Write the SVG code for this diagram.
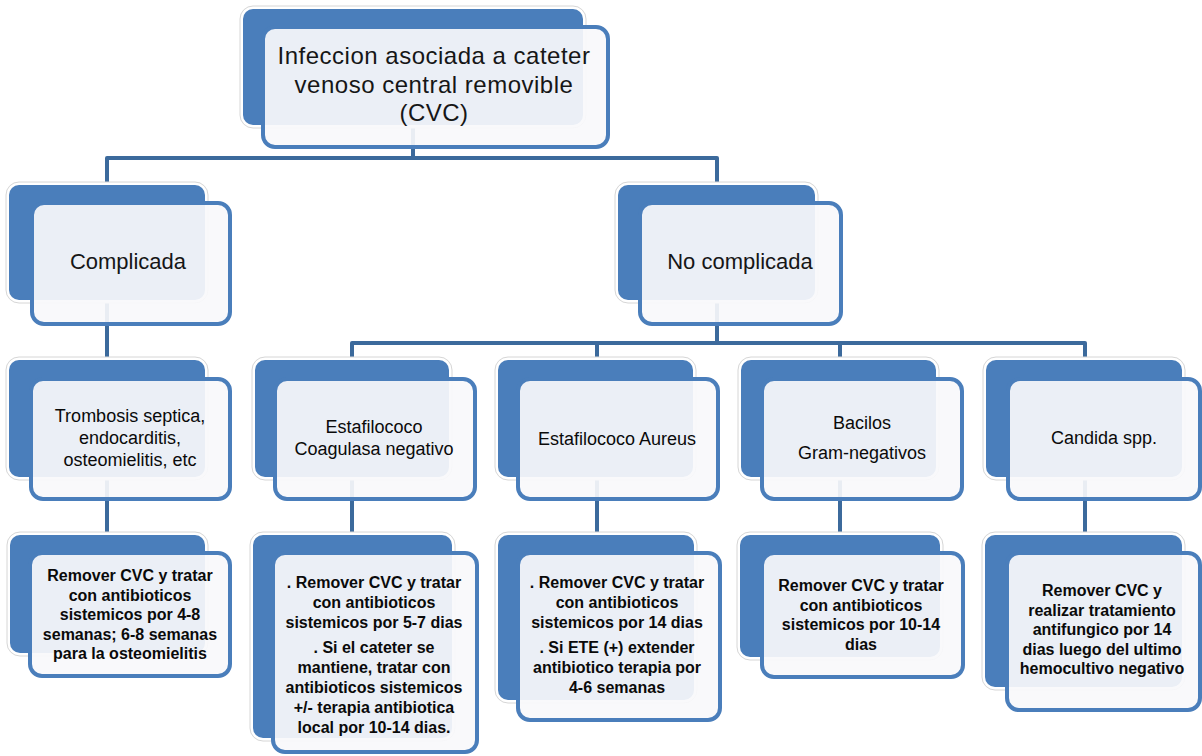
<svg xmlns="http://www.w3.org/2000/svg" width="1202" height="756" viewBox="0 0 1202 756">
<style>
.halo{fill:#ffffff;stroke:#d6d6d6;stroke-width:1}
.back{fill:#4a7ebb}
.front{fill:#f8f9fb;fill-opacity:0.92;stroke:#4a7ebb;stroke-width:4}
.conn{fill:none;stroke:#3c6a9c;stroke-width:4;stroke-linejoin:round}
.t1{font-family:"Liberation Sans",Arial,sans-serif;font-size:24px;fill:#161616;text-anchor:middle;letter-spacing:0.5px}
.t2{font-family:"Liberation Sans",Arial,sans-serif;font-size:22px;fill:#161616;text-anchor:middle}
.t3{font-family:"Liberation Sans",Arial,sans-serif;font-size:18px;fill:#0a0a0a;text-anchor:middle}
.t4{font-family:"Liberation Sans",Arial,sans-serif;font-size:16px;font-weight:bold;fill:#0a0a0a;text-anchor:middle}
</style>
<rect width="1202" height="756" fill="#ffffff"/>
<g id="connectors">
<path class="conn" d="M413 125 V158 M107 185 V158 H717 V185"/>
<path class="conn" d="M107 300 V360 M107 477 V535"/>
<path class="conn" d="M717 300 V343 M352 360 V343 H1085 V360 M597 343 V360 M840 343 V360"/>
<path class="conn" d="M352 477 V535 M597 477 V535 M840 477 V535 M1085 477 V535"/>
</g>
<g id="n-root">
<rect class="halo" x="240" y="6" width="346" height="122" rx="13"/>
<rect class="back" x="243" y="9" width="340" height="116" rx="10"/>
<rect class="front" x="263" y="27" width="345" height="120" rx="12"/>
<text class="t1" x="434" y="64">Infeccion asociada a cateter</text>
<text class="t1" x="434" y="93">venoso central removible</text>
<text class="t1" x="434" y="121">(CVC)</text>
</g>
<g id="n-complicada">
<rect class="halo" x="6" y="182" width="202" height="121" rx="13"/>
<rect class="back" x="9" y="185" width="196" height="115" rx="10"/>
<rect class="front" x="32" y="203" width="198" height="121" rx="12"/>
<text class="t2" x="128" y="269">Complicada</text>
</g>
<g id="n-nocomplicada">
<rect class="halo" x="615" y="182" width="203" height="121" rx="13"/>
<rect class="back" x="618" y="185" width="197" height="115" rx="10"/>
<rect class="front" x="640" y="203" width="201" height="121" rx="12"/>
<text class="t2" x="740" y="269">No complicada</text>
</g>
<g id="n-trombosis">
<rect class="halo" x="6" y="357" width="202" height="123" rx="13"/>
<rect class="back" x="9" y="360" width="196" height="117" rx="10"/>
<rect class="front" x="31" y="379" width="199" height="120" rx="12"/>
<text class="t3" x="130" y="422">Trombosis septica,</text>
<text class="t3" x="130" y="444">endocarditis,</text>
<text class="t3" x="130" y="466">osteomielitis,  etc</text>
</g>
<g id="n-coagulasa">
<rect class="halo" x="252" y="357" width="200" height="123" rx="13"/>
<rect class="back" x="255" y="360" width="194" height="117" rx="10"/>
<rect class="front" x="275" y="379" width="200" height="120" rx="12"/>
<text class="t3" x="374" y="433">Estafilococo</text>
<text class="t3" x="374" y="455">Coagulasa negativo</text>
</g>
<g id="n-aureus">
<rect class="halo" x="495" y="357" width="201" height="123" rx="13"/>
<rect class="back" x="498" y="360" width="195" height="117" rx="10"/>
<rect class="front" x="518" y="379" width="200" height="120" rx="12"/>
<text class="t3" x="617" y="445">Estafilococo Aureus</text>
</g>
<g id="n-bacilos">
<rect class="halo" x="738" y="357" width="201" height="123" rx="13"/>
<rect class="back" x="741" y="360" width="195" height="117" rx="10"/>
<rect class="front" x="762" y="379" width="200" height="120" rx="12"/>
<text class="t3" x="862" y="429">Bacilos</text>
<text class="t3" x="862" y="459">Gram-negativos</text>
</g>
<g id="n-candida">
<rect class="halo" x="983" y="357" width="202" height="123" rx="13"/>
<rect class="back" x="986" y="360" width="196" height="117" rx="10"/>
<rect class="front" x="1008" y="379" width="192" height="120" rx="12"/>
<text class="t3" x="1104" y="444">Candida spp.</text>
</g>
<g id="n-tx1">
<rect class="halo" x="7" y="532" width="201" height="124" rx="13"/>
<rect class="back" x="10" y="535" width="195" height="118" rx="10"/>
<rect class="front" x="30" y="553" width="200" height="123" rx="12"/>
<text class="t4" x="130" y="581">Remover CVC y tratar</text>
<text class="t4" x="130" y="600.5">con antibioticos</text>
<text class="t4" x="130" y="620">sistemicos por 4-8</text>
<text class="t4" x="130" y="639.5">semanas; 6-8 semanas</text>
<text class="t4" x="130" y="659">para la osteomielitis</text>
</g>
<g id="n-tx2">
<rect class="halo" x="250" y="532" width="205" height="209" rx="13"/>
<rect class="back" x="253" y="535" width="199" height="203" rx="10"/>
<rect class="front" x="273" y="553" width="204" height="199" rx="12"/>
<text class="t4" x="374" y="588">. Remover CVC y tratar</text>
<text class="t4" x="374" y="608">con antibioticos</text>
<text class="t4" x="374" y="628">sistemicos por 5-7 dias</text>
<text class="t4" x="374" y="653">. Si el cateter se</text>
<text class="t4" x="374" y="673">mantiene, tratar con</text>
<text class="t4" x="374" y="693">antibioticos sistemicos</text>
<text class="t4" x="374" y="713">+/- terapia antibiotica</text>
<text class="t4" x="374" y="733">local por 10-14 dias.</text>
</g>
<g id="n-tx3">
<rect class="halo" x="495" y="532" width="202" height="171" rx="13"/>
<rect class="back" x="498" y="535" width="196" height="165" rx="10"/>
<rect class="front" x="518" y="553" width="202" height="167" rx="12"/>
<text class="t4" x="617" y="588">. Remover CVC y tratar</text>
<text class="t4" x="617" y="608">con antibioticos</text>
<text class="t4" x="617" y="628">sistemicos por 14 dias</text>
<text class="t4" x="617" y="653">. Si ETE (+) extender</text>
<text class="t4" x="617" y="673">antibiotico terapia por</text>
<text class="t4" x="617" y="693">4-6 semanas</text>
</g>
<g id="n-tx4">
<rect class="halo" x="737" y="532" width="206" height="128" rx="13"/>
<rect class="back" x="740" y="535" width="200" height="122" rx="10"/>
<rect class="front" x="762" y="553" width="201" height="124" rx="12"/>
<text class="t4" x="861" y="591">Remover CVC y tratar</text>
<text class="t4" x="861" y="610.5">con antibioticos</text>
<text class="t4" x="861" y="630">sistemicos por 10-14</text>
<text class="t4" x="861" y="649.5">dias</text>
</g>
<g id="n-tx5">
<rect class="halo" x="982" y="532" width="203" height="158" rx="13"/>
<rect class="back" x="985" y="535" width="197" height="152" rx="10"/>
<rect class="front" x="1007" y="553" width="193" height="157" rx="12"/>
<text class="t4" x="1102" y="596">Remover CVC y</text>
<text class="t4" x="1102" y="615.5">realizar tratamiento</text>
<text class="t4" x="1102" y="635">antifungico  por 14</text>
<text class="t4" x="1102" y="654.5">dias luego del ultimo</text>
<text class="t4" x="1102" y="674">hemocultivo negativo</text>
</g>
</svg>
